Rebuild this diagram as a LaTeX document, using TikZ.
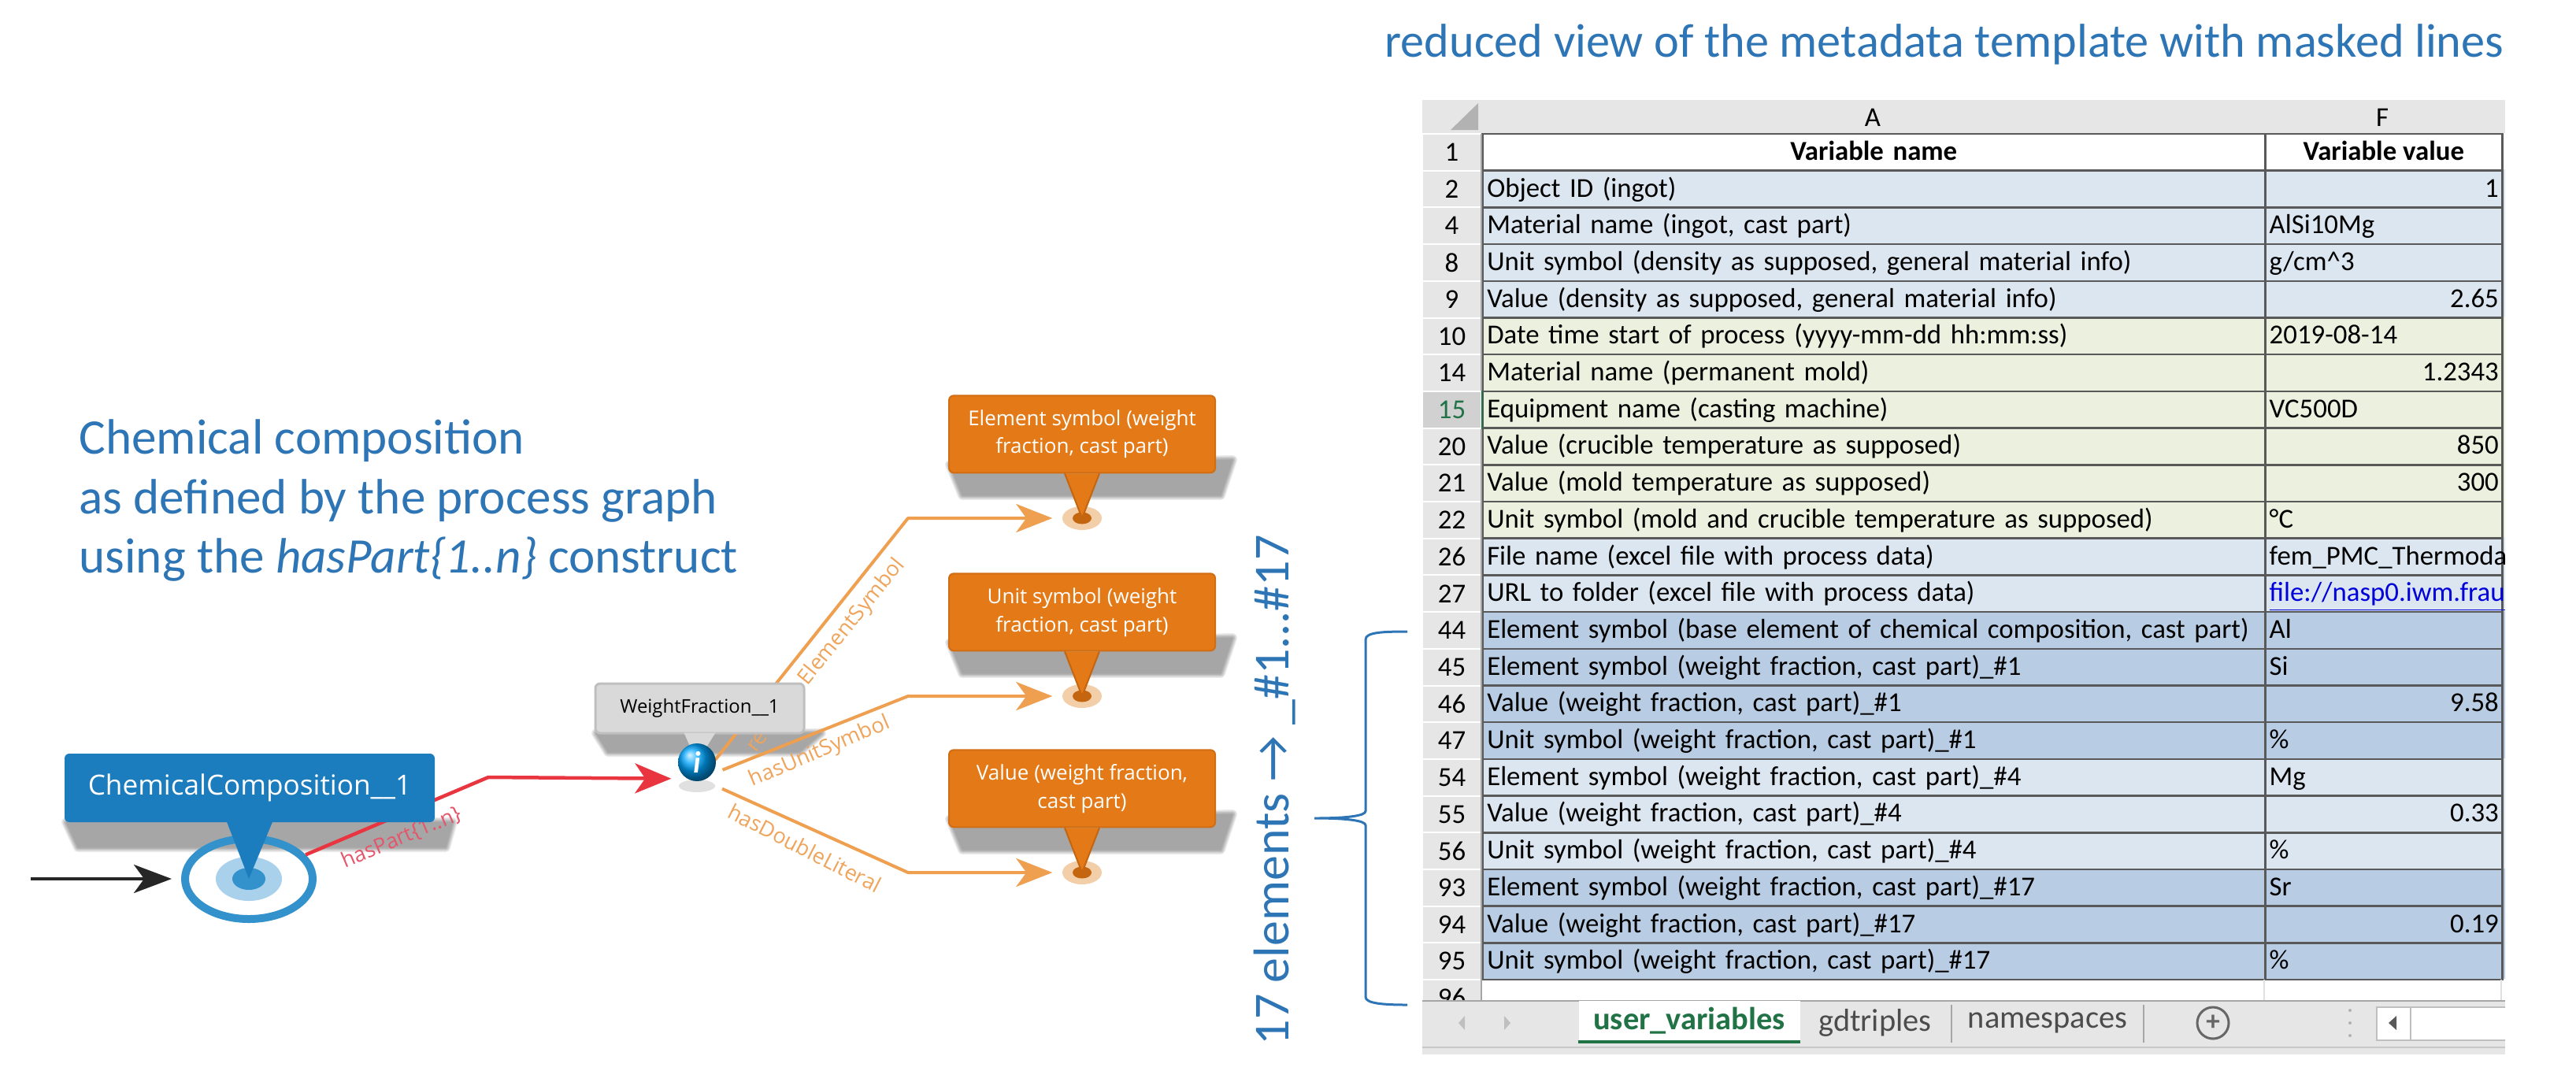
\documentclass[tikz,border=0pt]{standalone}
\usepackage{fontspec}
\setmainfont{Carlito}
\newfontfamily\callfont{Open Sans}
\usepackage{xcolor}
\usetikzlibrary{arrows.meta, calc, positioning, shapes.geometric}

\definecolor{titleblue}{HTML}{2E75B6}
\definecolor{chemblue}{HTML}{1C7DBE}
\definecolor{ringblue}{HTML}{3392CC}
\definecolor{ringpale}{HTML}{A9D1EC}
\definecolor{callorange}{HTML}{E47A17}
\definecolor{calldark}{HTML}{C4650F}
\definecolor{dotpale}{HTML}{F2CFA8}
\definecolor{edgeorange}{HTML}{EE9F4F}
\definecolor{labelorange}{HTML}{EFA45C}
\definecolor{edgered}{HTML}{E8353F}
\definecolor{labelred}{HTML}{E4566A}
\definecolor{sheetgrey}{HTML}{E6E6E6}
\definecolor{rowpale}{HTML}{DCE6F1}
\definecolor{rowgreen}{HTML}{EBF1DE}
\definecolor{rowdark}{HTML}{B8CCE4}
\definecolor{gridline}{HTML}{595959}
\definecolor{sheetgreen}{HTML}{217346}

\tikzset{
  headline/.style={text=titleblue, inner sep=0pt, font=\fontsize{17.15}{20}\selectfont},
  sidehead/.style={text=titleblue, inner sep=0pt, align=left, font=\fontsize{17.95}{21.5}\selectfont},
  chemcall/.style={fill=chemblue, text=white, rounded corners=0.06cm, minimum width=4.70cm, minimum height=0.87cm, inner sep=0pt, font=\callfont\fontsize{10}{12}\selectfont},
  greycall/.style={fill=black!15, draw=black!25, line width=0.03cm, rounded corners=0.06cm, minimum width=2.65cm, minimum height=0.63cm, inner sep=0pt, font=\callfont\fontsize{6.8}{9}\selectfont},
  orangecall/.style={fill=callorange, draw=calldark!60!callorange, line width=0.02cm, text=white, rounded corners=0.06cm, minimum width=3.38cm, minimum height=0.98cm, inner sep=0pt, align=center, font=\callfont\fontsize{7.4}{10.2}\selectfont},
  orangedot/.style={ellipse, fill=dotpale, minimum width=0.50cm, minimum height=0.30cm, inner sep=0pt},
  orangeedge/.style={edgeorange, line width=0.04cm, line join=round, shorten >=0.12cm, -{Stealth[length=0.46cm, width=0.36cm, inset=0.13cm]}},
  rededge/.style={edgered, line width=0.045cm, line join=round, shorten >=0.06cm, -{Stealth[length=0.46cm, width=0.38cm, inset=0.13cm]}},
  blackedge/.style={black!85, line width=0.04cm, shorten >=0.12cm, -{Stealth[length=0.48cm, width=0.36cm, inset=0.13cm]}},
  edgelabel/.style={text=labelorange, inner sep=0pt, font=\callfont\fontsize{7.7}{9}\selectfont},
  rowhead/.style={fill=sheetgrey, draw=white, line width=0.02cm, minimum width=0.75cm, minimum height=0.467cm, inner sep=0pt, font=\fontsize{9.9}{11}\selectfont},
  namecell/.style={draw=gridline, line width=0.025cm, text width=9.82cm, minimum height=0.467cm, inner xsep=0.06cm, inner ysep=0pt, text height=0.26cm, text depth=0.06cm, align=left, font=\fontsize{9.9}{11}\selectfont},
  valuecell/.style={draw=gridline, line width=0.025cm, minimum width=3.01cm, minimum height=0.467cm, inner sep=0pt},
  cellleft/.style={anchor=west, inner xsep=0.06cm, inner ysep=0pt, text height=0.26cm, text depth=0.06cm, font=\fontsize{9.9}{11}\selectfont},
  cellright/.style={anchor=east, inner xsep=0.05cm, inner ysep=0pt, text height=0.26cm, text depth=0.06cm, font=\fontsize{9.9}{11}\selectfont},
  sheettab/.style={inner sep=0pt, text=black!70, font=\fontsize{11.5}{13}\selectfont},
}

% grown copies of one polygon, dark on top, give the soft edge
\newcommand{\softshadow}[1]{\foreach \lw/\sh in {3.4pt/8, 2.6pt/16, 1.8pt/24, 1.0pt/30, 0.2pt/35}{\filldraw[draw=black!\sh, fill=black!\sh, line join=round, line width=\lw] #1 -- cycle;}}

\begin{document}
\begin{tikzpicture}
\useasboundingbox (0,0) rectangle (32.71,-13.73);
% headings
\node[headline, anchor=base west] (viewtitle) at (17.58,-0.72) {reduced view of the metadata template with masked lines};
\node[sidehead, anchor=north west] (comptitle) at (1.00,-5.32) {Chemical composition\\as defined by the process graph\\using the \textit{hasPart\{1..n\}} construct};

% chemical composition node
\softshadow{(0.84,-10.44) -- (5.75,-10.44) -- (5.66,-10.76) -- (0.99,-10.76)}
\node[ellipse, draw=ringblue, line width=0.10cm, minimum width=1.62cm, minimum height=1.02cm, inner sep=0pt] (chemring) at (3.16,-11.16) {};
\node[ellipse, fill=ringpale, minimum width=0.84cm, minimum height=0.56cm, inner sep=0pt] (chempale) at (chemring.center) {};
\node[ellipse, fill=ringblue, minimum width=0.42cm, minimum height=0.28cm, inner sep=0pt] (chemcore) at (chemring.center) {};
\coordinate (inlet) at (0.39,-11.16);
\draw[blackedge] (inlet) -- (chemring);

% weight fraction hub and its incoming edge
\softshadow{(7.57,-9.31) -- (10.43,-9.31) -- (10.15,-9.55) -- (7.72,-9.55)}
\node[circle, minimum size=0.60cm, inner sep=0pt] (wfhub) at (8.89,-9.89) {};
\coordinate (chemkink) at (6.20,-9.87);
\draw[rededge] (chemring) -- (chemkink) -- (wfhub);
\node[text=labelred, inner sep=0pt, rotate=23, font=\callfont\fontsize{7.6}{9}\selectfont] (partlabel) at (5.10,-10.64) {hasPart\{1..n\}};

% the three literals
\foreach \nm/\yy/\txt in {elem/-6.58/{Element symbol (weight\\fraction, cast part)}, unit/-8.84/{Unit symbol (weight\\fraction, cast part)}, val/-11.08/{Value (weight fraction,\\cast part)}}{
  \softshadow{(12.06,\yy+0.68) -- (15.65,\yy+0.74) -- (15.50,\yy+0.29) -- (12.22,\yy+0.29)}
  \node[orangedot] (\nm dot) at (13.74,\yy) {};
  \node[ellipse, fill=calldark, minimum width=0.24cm, minimum height=0.15cm, inner sep=0pt] (\nm core) at (\nm dot.center) {};
  \coordinate (\nm kink) at (11.53,\yy);
  \draw[orangeedge] (wfhub) -- (\nm kink) -- (\nm dot);
  \node[orangecall, above=0.41cm of \nm dot] (\nm call) {\txt};
  \filldraw[fill=callorange, draw=calldark, line width=0.02cm] ($(\nm call.south)+(-0.22,0)$) -- (\nm core.center) -- ($(\nm call.south)+(0.22,0)$);
}
\node[edgelabel, rotate=51] (elemlabel) at (10.82,-7.90) {ElementSymbol};
\node[edgelabel, rotate=54] (relabel) at (9.62,-9.42) {re};
\node[edgelabel, rotate=23] (unitlabel) at (10.41,-9.55) {hasUnitSymbol};
\node[edgelabel, rotate=-27] (vallabel) at (10.22,-10.77) {hasDoubleLiteral};

% callouts on top
\node[chemcall] (chemcall) at (3.17,-10.005) {ChemicalComposition\_\_1};
\fill[chemblue] ($(chemcall.south)+(-0.29,0.01)$) -- (chemcore.center) -- ($(chemcall.south)+(0.29,0.01)$) -- cycle;
\node[greycall] (wfcall) at (8.885,-8.995) {WeightFraction\_\_1};
\fill[black!15] ($(wfcall.south)+(-0.20,0.02)$) -- (8.85,-9.68) -- ($(wfcall.south)+(0.20,0.02)$) -- cycle;
\node[ellipse, fill=black!12, minimum width=0.46cm, minimum height=0.16cm, inner sep=0pt] (wfball) at (8.85,-9.98) {};
\node[circle, ball color=blue!35!cyan, text=white, minimum size=0.48cm, inner sep=0pt, font=\bfseries\itshape\fontsize{11}{11}\selectfont] (wfinfo) at (8.85,-9.68) {i};

% element count and brace
\node[text=titleblue, inner sep=0pt, rotate=90, anchor=base west, font=\fontsize{18.2}{20}\selectfont] (countlabel) at (16.36,-13.28) {17 elements → \_\#1...\#17};
\draw[titleblue, line width=0.03cm] (17.87,-8.02) .. controls (17.55,-8.02) and (17.34,-8.03) .. (17.34,-8.12) -- (17.34,-10.30) .. controls (17.34,-10.36) and (17.10,-10.39) .. (16.69,-10.39) .. controls (17.10,-10.39) and (17.34,-10.42) .. (17.34,-10.48) -- (17.34,-12.66) .. controls (17.34,-12.74) and (17.55,-12.76) .. (17.87,-12.76);

% sheet
\begin{scope}
\clip (18.06,-1.27) rectangle (31.81,-13.39);
\fill[sheetgrey] (18.06,-1.27) rectangle (31.81,-1.70);
\fill[black!30] (18.77,-1.31) -- (18.42,-1.65) -- (18.77,-1.65) -- cycle;
\node[font=\fontsize{9.9}{11}\selectfont] (colA) at (23.78,-1.49) {A};
\node[font=\fontsize{9.9}{11}\selectfont] (colF) at (30.25,-1.49) {F};
\foreach \rownum/\lab/\bg [count=\rr] in {
  1/{\hfil\textbf{Variable name}\hfil}/white,
  2/{Object ID (ingot)}/rowpale,
  4/{Material name (ingot, cast part)}/rowpale,
  8/{Unit symbol (density as supposed, general material info)}/rowpale,
  9/{Value (density as supposed, general material info)}/rowpale,
  10/{Date time start of process (yyyy-mm-dd hh:mm:ss)}/rowgreen,
  14/{Material name (permanent mold)}/rowgreen,
  15/{Equipment name (casting machine)}/rowgreen,
  20/{Value (crucible temperature as supposed)}/rowgreen,
  21/{Value (mold temperature as supposed)}/rowgreen,
  22/{Unit symbol (mold and crucible temperature as supposed)}/rowgreen,
  26/{File name (excel file with process data)}/rowpale,
  27/{URL to folder (excel file with process data)}/rowpale,
  44/{Element symbol (base element of chemical composition, cast part)}/rowdark,
  45/{Element symbol (weight fraction, cast part)\_\#1}/rowdark,
  46/{Value (weight fraction, cast part)\_\#1}/rowdark,
  47/{Unit symbol (weight fraction, cast part)\_\#1}/rowdark,
  54/{Element symbol (weight fraction, cast part)\_\#4}/rowpale,
  55/{Value (weight fraction, cast part)\_\#4}/rowpale,
  56/{Unit symbol (weight fraction, cast part)\_\#4}/rowpale,
  93/{Element symbol (weight fraction, cast part)\_\#17}/rowdark,
  94/{Value (weight fraction, cast part)\_\#17}/rowdark,
  95/{Unit symbol (weight fraction, cast part)\_\#17}/rowdark}{
  \pgfmathsetmacro\yy{-1.70-(\rr-0.5)*0.467}
  \node[rowhead] (head\rr) at (18.435,\yy) {\rownum};
  \node[namecell, fill=\bg, anchor=west] (name\rr) at (18.81,\yy) {\lab};
  \node[valuecell, fill=\bg, anchor=west] (value\rr) at (28.75,\yy) {};
  \fill[\bg] (value\rr.north east) rectangle ++(0.06,-0.467);
}
% empty last row
\node[rowhead] (head24) at (18.435,-12.672) {96};
\draw[black!12, line width=0.02cm] (28.75,-12.44) -- (28.75,-12.71) (31.76,-12.44) -- (31.76,-12.71);
% thin left edge of the name column
\draw[black!35, line width=0.02cm] (18.81,-1.70) -- (18.81,-12.71);
% active cell marker
\node[rowhead, fill=black!18, text=sheetgreen] (headactive) at (head8) {15};
\draw[sheetgreen, line width=0.025cm] (headactive.north east) -- (headactive.south east);
\node[cellright, anchor=center, font=\bfseries\fontsize{9.9}{11}\selectfont] (valuehead) at (value1) {Variable value};
% left aligned values
\foreach \rr/\val in {3/AlSi10Mg, 4/{g/cm\textasciicircum 3}, 6/2019-08-14, 8/VC500D, 11/°C, 12/{fem\_PMC\_Thermoda}, 14/Al, 15/Si, 17/\%, 18/Mg, 20/\%, 21/Sr, 23/\%}{
  \node[cellleft] (text\rr) at (value\rr.west) {\val};
}
\node[cellleft, text=blue!85!black] (textlink) at (value13.west) {\underline{file://nasp0.iwm.frau}};
% right aligned values
\foreach \rr/\val in {2/1, 5/2.65, 7/1.2343, 9/850, 10/300, 16/9.58, 19/0.33, 22/0.19}{
  \node[cellright] (text\rr) at (value\rr.east) {\val};
}
% tab bar
\fill[sheetgrey] (18.06,-12.71) rectangle (31.81,-13.39);
\draw[black!35, line width=0.025cm] (18.06,-12.71) -- (31.81,-12.71);
\draw[black!22, line width=0.025cm] (18.06,-13.30) -- (31.81,-13.30);
\node[sheettab, fill=white, text=sheetgreen, minimum width=2.81cm, minimum height=0.51cm, font=\bfseries\fontsize{11.5}{13}\selectfont] (tabuser) at (21.45,-12.965) {user\_variables};
\draw[sheetgreen, line width=0.04cm] (tabuser.south west) -- (tabuser.south east);
\node[sheettab] (tabgd) at (23.81,-12.99) {gdtriples};
\node[sheettab] (tabns) at (26.00,-12.99) {namespaces};
\draw[black!35, line width=0.02cm] (24.78,-12.76) -- (24.78,-13.24);
\draw[black!35, line width=0.02cm] (27.22,-12.76) -- (27.22,-13.24);
\node[circle, draw=black!60, line width=0.03cm, minimum size=0.40cm, inner sep=0pt, text=black!60, font=\bfseries\fontsize{10}{10}\selectfont] (tabplus) at (28.10,-12.99) {+};
\fill[black!25] (18.60,-12.90) -- (18.60,-13.08) -- (18.52,-12.99) -- cycle;
\fill[black!25] (19.10,-12.90) -- (19.10,-13.08) -- (19.18,-12.99) -- cycle;
\foreach \dy in {-12.83,-12.99,-13.15}{\fill[black!30] (29.84,\dy) circle (0.02);}
\filldraw[fill=white, draw=black!25, line width=0.02cm] (30.18,-12.79) rectangle (31.90,-13.21);
\draw[black!25, line width=0.02cm] (30.61,-12.79) -- (30.61,-13.21);
\fill[black!65] (30.43,-12.90) -- (30.43,-13.08) -- (30.33,-12.99) -- cycle;
\end{scope}
\end{tikzpicture}
\end{document}
